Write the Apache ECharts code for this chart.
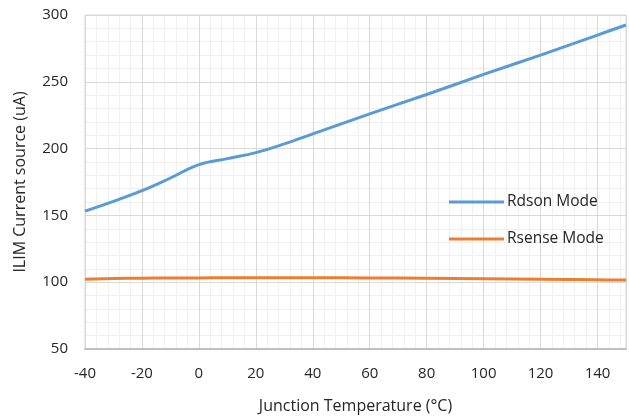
<!DOCTYPE html>
<html>
<head>
<meta charset="utf-8">
<script src="https://cdn.jsdelivr.net/npm/echarts@6/dist/echarts.min.js"></script>
<style>html,body{margin:0;padding:0;background:#fff;}#c{width:629px;height:419px;}</style>
</head>
<body>
<div id="c"></div>
<script>
var temps = [-40, -30, -20, -10, 0, 10, 20, 30, 40, 60, 80, 100, 120, 140, 150];
var rdson = [153.2, 160.5, 168.5, 178, 188, 192.5, 197, 203.5, 211, 226, 240.5, 255.5, 270, 285, 292.5];
var rsense = [102.2, 102.7, 103.0, 103.1, 103.2, 103.3, 103.3, 103.3, 103.3, 103.2, 103.0, 102.6, 102.2, 101.8, 101.6];
var seriesNames = ['Rdson Mode', 'Rsense Mode'];
var xTitle = 'Junction Temperature (\u00B0C)';
var yTitle = 'ILIM Current source (uA)';

function pairs(xs, ys) { return xs.map(function (x, i) { return [x, ys[i]]; }); }

var font = 'Open Sans';
var chart = echarts.init(document.getElementById('c'), null, { renderer: 'canvas' });
chart.setOption({
  animation: false,
  textStyle: { fontFamily: font },
  grid: { left: 85, right: 3, top: 15, bottom: 69, containLabel: false,
          show: true, borderColor: '#d9d9d9', borderWidth: 1 },
  legend: {
    orient: 'vertical', left: 444, top: 189, itemGap: 21,
    itemWidth: 55, itemHeight: 3,
    icon: 'rect',
    textStyle: { fontSize: 15.5, color: '#262626', fontFamily: font, padding: [0, 0, 0, -2] },
    data: seriesNames
  },
  xAxis: [
    { type: 'value', min: -40, max: 150, interval: 20,
      name: xTitle, nameLocation: 'middle', nameGap: 49,
      nameTextStyle: { fontSize: 16, color: '#262626' },
      axisLine: { show: true, lineStyle: { color: '#bfbfbf', width: 2 } },
      axisTick: { show: false },
      axisLabel: { fontSize: 15, color: '#262626', margin: 17,
        formatter: function (v) { return v === 150 ? '' : String(v); } },
      splitLine: { show: true, lineStyle: { color: '#d9d9d9', width: 1 } },
      z: 3 },
    { type: 'value', min: -40, max: 150, interval: 4, show: true,
      axisLine: { show: false }, axisTick: { show: false }, axisLabel: { show: false },
      splitLine: { show: true, lineStyle: { color: '#f0f0f0', width: 1 } }, z: 1 }
  ],
  yAxis: [
    { type: 'value', min: 50, max: 300, interval: 50,
      name: yTitle, nameLocation: 'middle', nameGap: 57, nameRotate: 90,
      nameTextStyle: { fontSize: 16, color: '#262626' },
      axisLine: { show: true, lineStyle: { color: '#d9d9d9', width: 1 } },
      axisTick: { show: false },
      axisLabel: { fontSize: 15, color: '#262626', margin: 17 },
      splitLine: { show: true, lineStyle: { color: '#d9d9d9', width: 1 } },
      z: 3 },
    { type: 'value', min: 50, max: 300, interval: 10, show: true, position: 'left',
      axisLine: { show: false }, axisTick: { show: false }, axisLabel: { show: false },
      splitLine: { show: true, lineStyle: { color: '#f0f0f0', width: 1 } }, z: 1 }
  ],
  series: [
    { name: seriesNames[0], type: 'line', xAxisIndex: 0, yAxisIndex: 0,
      data: pairs(temps, rdson), smooth: 0.4, showSymbol: false, symbol: 'none',
      lineStyle: { color: '#5B9BD5', width: 3 }, itemStyle: { color: '#5B9BD5' }, z: 5 },
    { name: seriesNames[1], type: 'line', xAxisIndex: 0, yAxisIndex: 0,
      data: pairs(temps, rsense), smooth: 0.4, showSymbol: false, symbol: 'none',
      lineStyle: { color: '#ED7D31', width: 3 }, itemStyle: { color: '#ED7D31' }, z: 5 }
  ]
});
</script>
</body>
</html>
